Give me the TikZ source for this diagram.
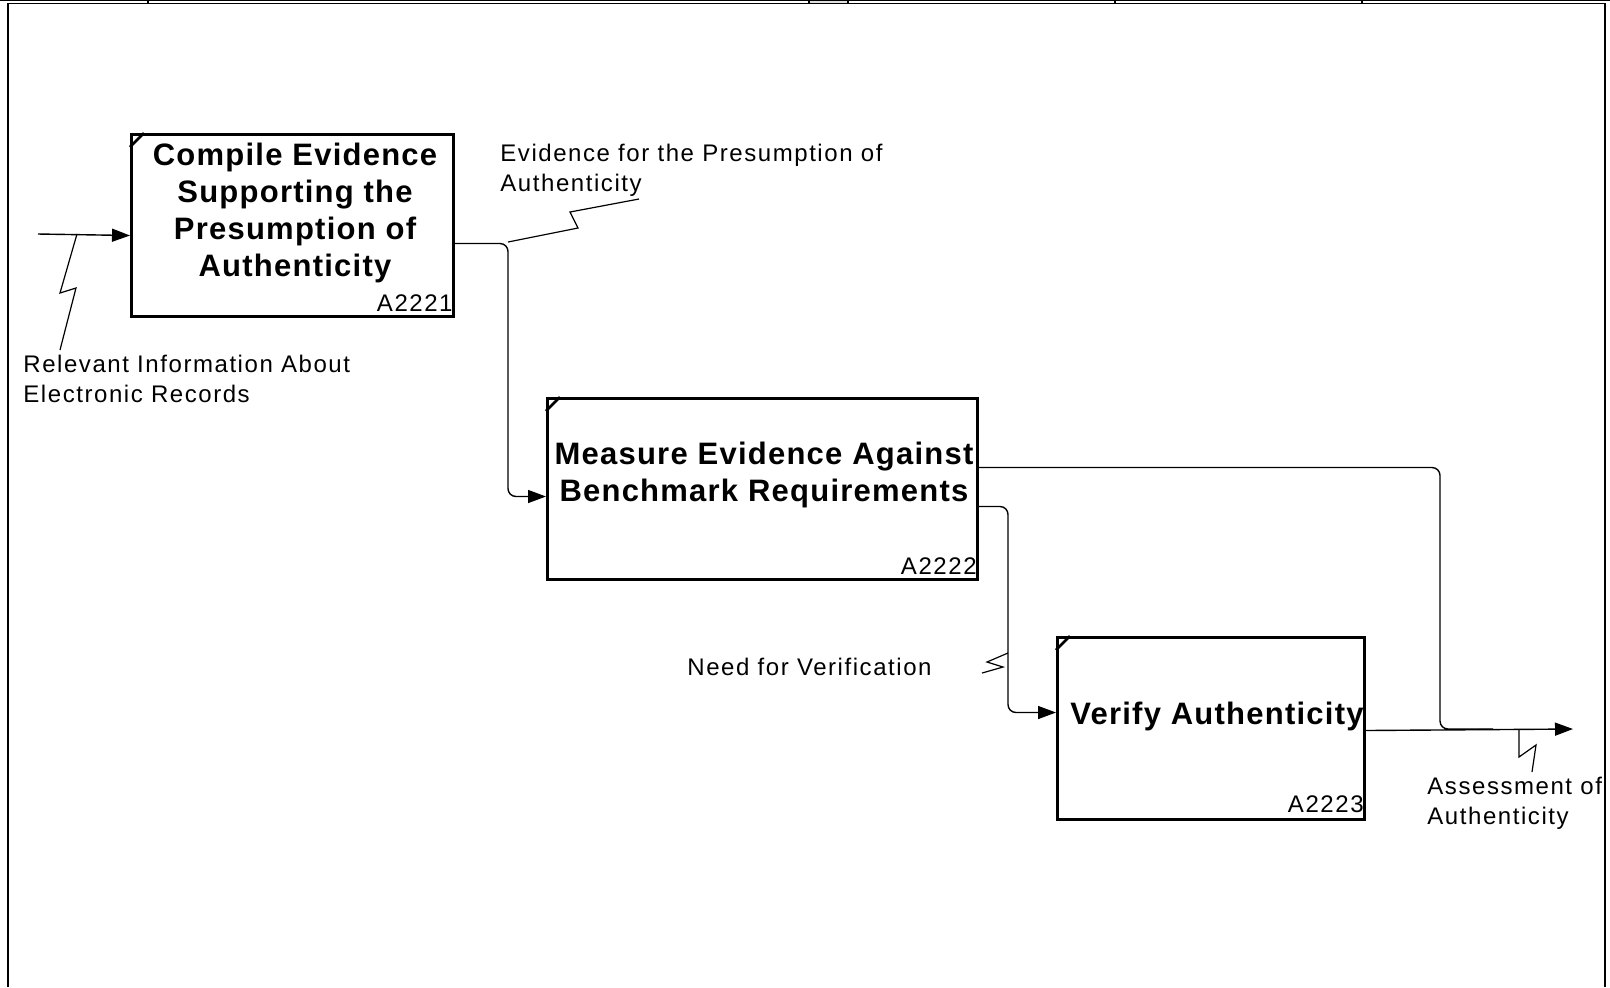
\documentclass[tikz,border=0pt]{standalone}
\usepackage{fontspec}
\setmainfont{Liberation Sans}
\newfontfamily\boxfont{Liberation Sans}[LetterSpace=4]
\newfontfamily\lblfont{Liberation Sans}[LetterSpace=6.5]
\usetikzlibrary{arrows.meta}

\begin{document}
\begin{tikzpicture}[x=0.5pt,y=-0.5pt]

	\tikzstyle{activity}=[draw,rectangle,line width=1.5pt,inner sep=0pt,anchor=north west]
	\tikzstyle{title}=[align=center,inner sep=0pt,font=\boxfont\fontsize{15.5}{18.5}\selectfont\bfseries]
	\tikzstyle{boxid}=[anchor=south east,inner sep=0pt,font=\lblfont\fontsize{12}{13}\selectfont]
	\tikzstyle{arrowlabel}=[anchor=west,align=left,inner sep=0pt,font=\lblfont\fontsize{12}{15}\selectfont]
	\tikzstyle{flow}=[line width=0.7pt,rounded corners=4pt]
	\tikzstyle{tip}=[-{Triangle[length=9pt,width=6.5pt]}]
	\tikzstyle{squiggle}=[line width=0.6pt]

	\useasboundingbox (0,0) rectangle (1610,987);

	% frame and cut-off header
	\fill[gray!25] (809,0.5) rectangle (848,3.5);
	\draw[line width=0.75pt] (0,0.5) -- (1610,0.5);
	\draw[line width=0.75pt] (8,987) -- (8,3.5) -- (1605,3.5) -- (1605,987);
	\foreach \x in {148,809,848,1115,1362} \draw[line width=0.75pt] (\x,0) -- (\x,3.5);

	% activities
	\node[activity,minimum width=161pt,minimum height=91pt] (b1) at (130,133) {};
	\node[activity,minimum width=215pt,minimum height=90.5pt] (b2) at (546,397) {};
	\node[activity,minimum width=153.5pt,minimum height=91pt] (b3) at (1056,636) {};

	\foreach \b in {b1,b2,b3}
		\draw[line width=1.3pt] ([yshift=-7pt]\b.north west) -- ([xshift=7pt]\b.north west);

	\node[title] (t1) at (295,213) {Compile Evidence\\Supporting the\\Presumption of\\Authenticity};
	\node[title] (t2) at (764,475) {Measure Evidence Against\\Benchmark Requirements};
	\node[title] (t3) at (1217,716) {Verify Authenticity};

	\node[boxid] (id1) at ([shift={(-1pt,3pt)}]b1.south east) {A2221};
	\node[boxid] (id2) at ([shift={(-1pt,3pt)}]b2.south east) {A2222};
	\node[boxid] (id3) at ([shift={(-1pt,4pt)}]b3.south east) {A2223};

	% arrows
	\coordinate (in) at (38,234);
	\coordinate (out) at (1573,729);

	\draw[flow,tip] (in) -- ([yshift=-5pt]b1.west);
	\draw[flow,tip] ([yshift=-9pt]b1.east) -| ([xshift=-19pt,yshift=-3.75pt]b2.west) -- ([yshift=-3.75pt]b2.west);
	\draw[flow,tip] ([yshift=-8.75pt]b2.east) -| ([xshift=-24pt,yshift=8pt]b3.west) -- ([yshift=8pt]b3.west);
	\draw[flow] ([yshift=10.75pt]b2.east) -| ([xshift=-66.5pt]out) -- ([xshift=-40pt]out);
	\draw[flow,tip] ([yshift=-1pt]b3.east) -- (out);

	% labels
	\node[arrowlabel] (l1) at (23,379) {Relevant Information About\\Electronic Records};
	\node[arrowlabel] (l2) at (500,170) {Evidence for the Presumption of\\Authenticity};
	\node[arrowlabel] (l3) at (687,667) {Need for Verification};
	\node[arrowlabel] (l4) at (1427,803) {Assessment of\\Authenticity};

	\draw[squiggle] (77,234) -- (60,293) -- (76,288) -- (60,350);
	\draw[squiggle] (508,242) -- (578,228) -- (570,212) -- (639,199);
	\draw[squiggle] (1008,653) -- (987,662) -- (1003,667) -- (982,673);
	\draw[squiggle] (1519,729) -- (1519,757) -- (1536,745) -- (1532,772);

\end{tikzpicture}
\end{document}
